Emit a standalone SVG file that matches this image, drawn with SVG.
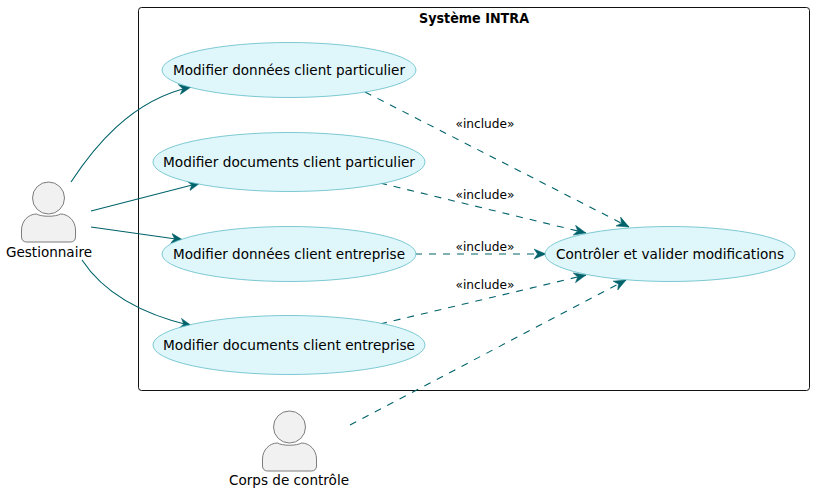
<svg xmlns="http://www.w3.org/2000/svg" width="815" height="492" viewBox="0 0 815 492">
<style>
text{font-family:"DejaVu Sans","Liberation Sans",sans-serif;font-size:14px;fill:#000;text-anchor:middle}
.uc{fill:#dff6fa;stroke:#5fbcc8;stroke-width:.8}
.act{fill:#f1f1f1;stroke:#6e6e6e;stroke-width:.9}
.c{fill:none;stroke:#00626b;stroke-width:1.100}
.d{stroke-dasharray:7 7}
.lab{font-size:12.5px}
</style>
<defs>
<marker id="a" markerUnits="userSpaceOnUse" markerWidth="14" markerHeight="12" refX="12" refY="5" orient="auto" viewBox="0 0 14 10">
<path d="M0 0L12 5L0 10L3.5 5Z" fill="#00626b" stroke="#00626b" stroke-width=".5"/>
</marker>
<g id="person">
<circle cx="0" cy="-43" r="16" class="act"/>
<path class="act" d="M-27 -4V-11C-27 -20 -20 -27 -12 -27C-7 -24 7 -24 12 -27C20 -27 27 -20 27 -11V-4C27 -1 25 1 22 1H-22C-25 1 -27 -1 -27 -4Z"/>
</g>
</defs>
<g id="system">
<rect x="138.500" y="7.500" width="671" height="383" rx="3" fill="none" stroke="#111" stroke-width="1"/>
<text x="474" y="23" font-weight="bold" style="font-size:13.500px" textLength="110" lengthAdjust="spacingAndGlyphs">Système INTRA</text>
</g>
<g id="connectors">
<path class="c" marker-end="url(#a)" d="M71 182C92 150 130 100 191 87"/>
<path class="c" marker-end="url(#a)" d="M91 211L200 183"/>
<path class="c" marker-end="url(#a)" d="M91 227L183 240"/>
<path class="c" marker-end="url(#a)" d="M82 260C105 295 145 315 192 326"/>
<path class="c d" marker-end="url(#a)" d="M365 92L629 227"/>
<path class="c d" marker-end="url(#a)" d="M380 183L586 233"/>
<path class="c d" marker-end="url(#a)" d="M415 254L546 254"/>
<path class="c d" marker-end="url(#a)" d="M380 324L586 275"/>
<path class="c d" marker-end="url(#a)" d="M350 425L626 280"/>
<text class="lab" x="485" y="128" textLength="59" lengthAdjust="spacingAndGlyphs">«include»</text>
<text class="lab" x="485" y="199" textLength="59" lengthAdjust="spacingAndGlyphs">«include»</text>
<text class="lab" x="485" y="251" textLength="59" lengthAdjust="spacingAndGlyphs">«include»</text>
<text class="lab" x="485" y="289" textLength="59" lengthAdjust="spacingAndGlyphs">«include»</text>
</g>
<g id="uc1"><ellipse class="uc" cx="289" cy="70" rx="127" ry="27.500"/><text x="289" y="75" textLength="232" lengthAdjust="spacingAndGlyphs">Modifier données client particulier</text></g>
<g id="uc2"><ellipse class="uc" cx="289" cy="162" rx="136" ry="29.500"/><text x="289" y="167" textLength="252" lengthAdjust="spacingAndGlyphs">Modifier documents client particulier</text></g>
<g id="uc3"><ellipse class="uc" cx="289" cy="254" rx="127" ry="27.500"/><text x="289" y="259" textLength="232" lengthAdjust="spacingAndGlyphs">Modifier données client entreprise</text></g>
<g id="uc4"><ellipse class="uc" cx="289" cy="345" rx="136" ry="29.500"/><text x="289" y="350" textLength="252" lengthAdjust="spacingAndGlyphs">Modifier documents client entreprise</text></g>
<g id="uc5"><ellipse class="uc" cx="670" cy="254" rx="125" ry="27.500"/><text x="670" y="259" textLength="228" lengthAdjust="spacingAndGlyphs">Contrôler et valider modifications</text></g>
<g id="gestionnaire"><use href="#person" x="48.500" y="241"/><text x="49" y="257" textLength="86" lengthAdjust="spacingAndGlyphs">Gestionnaire</text></g>
<g id="corps"><use href="#person" x="289.500" y="470"/><text x="289" y="485" textLength="120" lengthAdjust="spacingAndGlyphs">Corps de contrôle</text></g>
</svg>
